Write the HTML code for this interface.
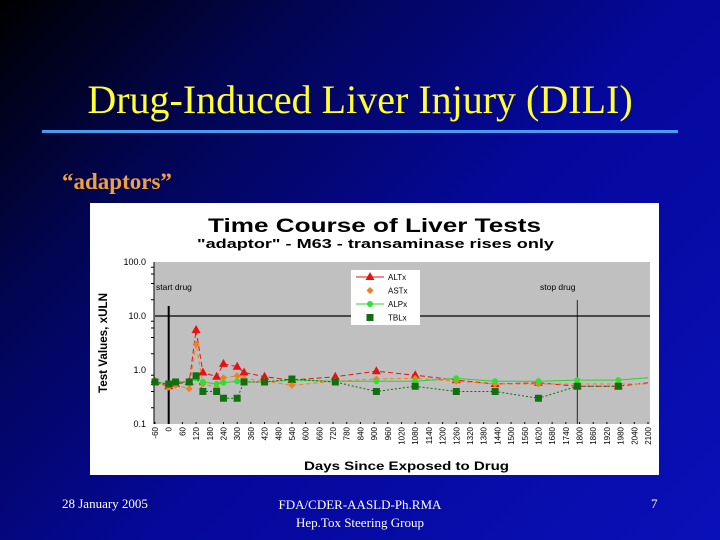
<!DOCTYPE html>
<html><head><meta charset="utf-8"><style>
body{margin:0;width:720px;height:540px;overflow:hidden;}
#slide{position:relative;width:720px;height:540px;background:linear-gradient(135deg,#000000 0%,#020550 24%,#05089a 55%,#0a10b8 100%);font-family:"Liberation Serif",serif;}
.t{position:absolute;white-space:nowrap;}
</style></head><body>
<div id="slide">
<div class="t" style="left:0;width:720px;text-align:center;top:76px;font-size:40px;color:#ffff33;">Drug-Induced Liver Injury (DILI)</div>
<div style="position:absolute;left:42px;top:130px;width:636px;height:3px;background:#4a9af0;"></div>
<div class="t" style="left:62px;top:169px;font-size:23px;font-weight:bold;color:#f0a040;">“adaptors”</div>
<div class="t" style="left:62px;top:496px;font-size:13px;color:#fff;">28 January 2005</div>
<div class="t" style="left:0;width:720px;text-align:center;top:496px;font-size:13px;color:#fff;line-height:18px;">FDA/CDER-AASLD-Ph.RMA<br>Hep.Tox Steering Group</div>
<div class="t" style="left:651px;top:496px;font-size:13px;color:#fff;">7</div>
<svg id="chart" width="720" height="540" style="position:absolute;left:0;top:0;" font-family="Liberation Sans, sans-serif"></svg>
</div>
<script>
const days=[-60,0,30,90,120,150,210,240,300,330,420,540,730,910,1080,1260,1430,1620,1790,1970];
const altx=[0.6,0.5,0.55,0.6,5.5,0.9,0.75,1.3,1.15,0.9,0.75,0.65,0.75,0.95,0.8,0.65,0.55,0.58,0.5,0.5];
const astx=[0.6,0.48,0.52,0.45,3.0,0.55,0.48,0.72,0.78,0.7,0.62,0.52,0.62,0.68,0.7,0.62,0.55,0.55,0.55,0.55];
const alpx=[0.6,0.55,0.6,0.6,0.7,0.6,0.55,0.58,0.62,0.6,0.6,0.65,0.62,0.62,0.62,0.7,0.62,0.62,0.65,0.65];
const tblx=[0.6,0.55,0.6,0.6,0.78,0.4,0.4,0.3,0.3,0.6,0.6,0.68,0.6,0.4,0.5,0.4,0.4,0.3,0.5,0.5];
const xTicks=[];for(let d=-60;d<=2100;d+=60)xTicks.push(d);
const yTicks=[0.1,1,10,100];
const yTickLabels=["0.1","1.0","10.0","100.0"];
const startDay=0, stopDay=1790;
const NS="http://www.w3.org/2000/svg";
const svg=document.getElementById('chart');
const X0=155,X1=648,Y0=424,Y1=262;
function xs(d){return X0+(d+60)/2160*(X1-X0);}
function ys(v){return Y0-(Math.log10(v)+1)/3*(Y0-Y1);}
function el(tag,at,parent){const e=document.createElementNS(NS,tag);for(const k in at)e.setAttribute(k,at[k]);(parent||svg).appendChild(e);return e;}
let e;
e=el('rect',{x:90,y:203,width:569,height:272,fill:'#fff'});


e=el('rect',{x:X0-1,y:Y1,width:X1-X0+3,height:Y0-Y1,fill:'#c0c0c0'});


e=el('text',{x:208,y:232,'font-size':19,'font-weight':'bold',fill:'#000',textLength:333,lengthAdjust:'spacingAndGlyphs'});e.textContent='Time Course of Liver Tests';


e=el('text',{x:197,y:248,'font-size':12.5,'font-weight':'bold',fill:'#000',textLength:357,lengthAdjust:'spacingAndGlyphs'});e.textContent='"adaptor" - M63 - transaminase rises only';


e=el('line',{x1:X0,y1:ys(10),x2:X1+2,y2:ys(10),stroke:'#000','stroke-width':1.2});


e=el('line',{x1:X0-1,y1:Y1,x2:X0-1,y2:Y0,stroke:'#000','stroke-width':1});


yTicks.forEach((v,i)=>{
 const t=el('text',{x:146,y:ys(v)+3,'text-anchor':'end','font-size':9,fill:'#000'});t.textContent=yTickLabels[i];
 
 
 if(i<3)for(let k=2;k<10;k+=2){const m=el('line',{x1:X0-4,x2:X0-1,y1:ys(v*k),y2:ys(v*k),stroke:'#000'});
 
 }
});
xTicks.forEach(d=>{
 const x=xs(d);
 const t=el('text',{transform:`translate(${x+3},427) rotate(-90)`,'text-anchor':'end','font-size':8,fill:'#000'});t.textContent=String(d);
 
 
 const m=el('line',{x1:x,x2:x,y1:Y0-2,y2:Y0,stroke:'#000'});
 
 
});
e=el('text',{transform:'translate(107,343) rotate(-90)','text-anchor':'middle','font-size':12,'font-weight':'bold',fill:'#000',textLength:100,lengthAdjust:'spacingAndGlyphs'});e.textContent='Test Values, xULN';


e=el('text',{x:304,y:470,'font-size':12,'font-weight':'bold',fill:'#000',textLength:205,lengthAdjust:'spacingAndGlyphs'});e.textContent='Days Since Exposed to Drug';


e=el('line',{x1:xs(startDay),x2:xs(startDay),y1:306,y2:Y0,stroke:'#000','stroke-width':2});


e=el('text',{x:156,y:290,'font-size':8.5,fill:'#000'});e.textContent='start drug';


e=el('line',{x1:xs(stopDay),x2:xs(stopDay),y1:300,y2:Y0,stroke:'#000','stroke-width':0.8});


e=el('text',{x:540,y:290,'font-size':8.5,fill:'#000'});e.textContent='stop drug';


function marker(type,x,y,c,g){
 let m;
 if(type==='tri')m=el('polygon',{points:`${x},${y-5} ${x-4.5},${y+3} ${x+4.5},${y+3}`,fill:c},g);
 else if(type==='dia')m=el('polygon',{points:`${x},${y-3.5} ${x+3.5},${y} ${x},${y+3.5} ${x-3.5},${y}`,fill:c},g);
 else if(type==='circ')m=el('circle',{cx:x,cy:y,r:3,fill:c},g);
 else m=el('rect',{x:x-3.5,y:y-3.5,width:7,height:7,fill:c},g);
 return m;
}
const series=[
 {name:'ALTx',vals:altx,c:'#e81010',lc:'#e81010',m:'tri',dash:'5,3',ext:0.58},
 {name:'ASTx',vals:astx,c:'#f08020',lc:'#f08020',m:'dia',dash:'4,3',ext:0.55},
 {name:'ALPx',vals:alpx,c:'#30e030',lc:'#30d030',m:'circ',dash:'',ext:0.72},
 {name:'TBLx',vals:tblx,c:'#107010',lc:'#107010',m:'sq',dash:'2,2',ext:null}
];
series.forEach(s=>{
 const g=el('g',{});
 
 
 let pts=days.map((d,i)=>xs(d)+','+ys(s.vals[i]));
 if(s.ext)pts.push(xs(2100)+','+ys(s.ext));
 const p=el('polyline',{points:pts.join(' '),fill:'none',stroke:s.lc,'stroke-width':1,'stroke-dasharray':s.dash},g);
 
 
 days.forEach((d,i)=>{const m=marker(s.m,xs(d),ys(s.vals[i]),s.c,g);
 
 });
});
const lg=el('g',{});


el('rect',{x:351,y:270,width:69,height:55,fill:'#fff'},lg);
series.forEach((s,i)=>{
 const y=277+i*13.5;
 const g=el('g',{},lg);
 
 
 if(s.m==='tri'||s.m==='circ')el('line',{x1:356,x2:384,y1:y,y2:y,stroke:s.lc},g);
 marker(s.m,370,y,s.c,g);
 const t=el('text',{x:388,y:y+3,'font-size':8,fill:'#000'},g);t.textContent=s.name;
});
</script>
</body></html>
